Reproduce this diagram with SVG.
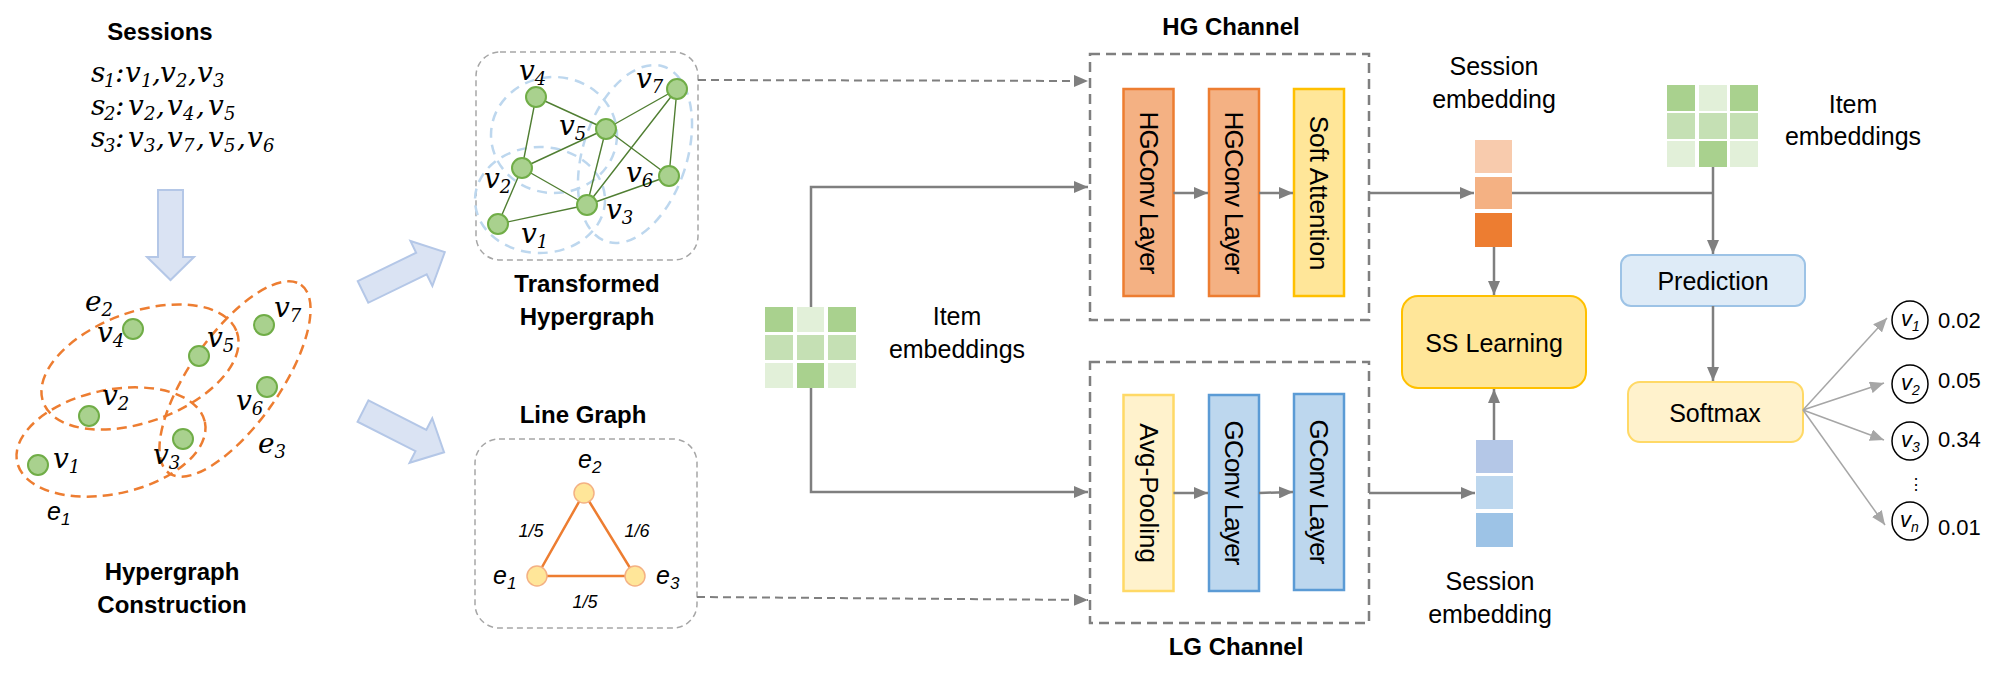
<svg xmlns="http://www.w3.org/2000/svg" width="2006" height="675" viewBox="0 0 2006 675">
<defs>
<style>
.t{font-family:"Liberation Sans",Arial,sans-serif;fill:#000}
.b{font-family:"Liberation Sans",Arial,sans-serif;font-weight:bold;font-size:24px;fill:#000;text-anchor:middle}
.lbl{font-family:"Liberation Sans",Arial,sans-serif;font-size:25px;fill:#000;text-anchor:middle}
.m{font-family:"DejaVu Serif","Liberation Serif",serif;font-style:italic;font-size:28px;fill:#000}
.sub{font-size:18px}
.si{font-family:"Liberation Sans",Arial,sans-serif;font-style:italic;fill:#000}
.hn{fill:#a9d18e;stroke:#70ad47;stroke-width:2}
.he{stroke:#507e32;stroke-width:1.4;fill:none}
.oe{fill:none;stroke:#ed7d31;stroke-width:2.5;stroke-dasharray:10 6}
.be{fill:none;stroke:#bdd7ee;stroke-width:2.5;stroke-dasharray:10 7}
.gbox{fill:none;stroke:#a6a6a6;stroke-width:1.5;stroke-dasharray:6 4}
.cbox{fill:none;stroke:#7f7f7f;stroke-width:2.5;stroke-dasharray:10 6}
.bigarrow{fill:#dae3f3;stroke:#b4c7e7;stroke-width:2}
.conn{fill:none;stroke:#7f7f7f;stroke-width:2.5}
.dconn{fill:none;stroke:#7f7f7f;stroke-width:2;stroke-dasharray:8 5}
.out{fill:none;stroke:#a6a6a6;stroke-width:1.5}
.lt{font-family:"Liberation Sans",Arial,sans-serif;font-size:26px;fill:#000;text-anchor:middle;dominant-baseline:central}
.g1{fill:#a9d18e}.g2{fill:#c5e0b4}.g3{fill:#e2f0d9}
</style>
<marker id="ah" viewBox="0 0 14 12" refX="14" refY="6" markerWidth="14" markerHeight="12" markerUnits="userSpaceOnUse" orient="auto">
<path d="M0,0 L14,6 L0,12 z" fill="#7f7f7f"/>
</marker>
<marker id="ahl" viewBox="0 0 14 12" refX="14" refY="6" markerWidth="14" markerHeight="12" markerUnits="userSpaceOnUse" orient="auto">
<path d="M0,0 L14,6 L0,12 z" fill="#a6a6a6"/>
</marker>
<path id="barrow" d="M0,-12 L65,-12 L65,-25 L91,0 L65,25 L65,12 L0,12 z"/>
</defs>

<!-- Sessions -->
<g id="sessions">
<text class="b" x="160" y="40">Sessions</text>
<text class="m"><tspan x="91" y="82">s</tspan><tspan class="sub" x="104" y="87">1</tspan><tspan x="115" y="82">:</tspan><tspan x="125" y="82">v</tspan><tspan class="sub" x="141" y="87">1</tspan><tspan x="152" y="82">,</tspan><tspan x="160" y="82">v</tspan><tspan class="sub" x="176" y="87">2</tspan><tspan x="188" y="82">,</tspan><tspan x="197" y="82">v</tspan><tspan class="sub" x="213" y="87">3</tspan></text>
<text class="m"><tspan x="91" y="115">s</tspan><tspan class="sub" x="104" y="120">2</tspan><tspan x="115" y="115">:</tspan><tspan x="128" y="115">v</tspan><tspan class="sub" x="144" y="120">2</tspan><tspan x="156" y="115">,</tspan><tspan x="167" y="115">v</tspan><tspan class="sub" x="183" y="120">4</tspan><tspan x="196" y="115">,</tspan><tspan x="208" y="115">v</tspan><tspan class="sub" x="224" y="120">5</tspan></text>
<text class="m"><tspan x="91" y="147">s</tspan><tspan class="sub" x="104" y="152">3</tspan><tspan x="115" y="147">:</tspan><tspan x="128" y="147">v</tspan><tspan class="sub" x="144" y="152">3</tspan><tspan x="156" y="147">,</tspan><tspan x="167" y="147">v</tspan><tspan class="sub" x="183" y="152">7</tspan><tspan x="196" y="147">,</tspan><tspan x="208" y="147">v</tspan><tspan class="sub" x="224" y="152">5</tspan><tspan x="237" y="147">,</tspan><tspan x="247" y="147">v</tspan><tspan class="sub" x="263" y="152">6</tspan></text>
</g>

<!-- big blue arrows -->
<g id="arrow-down"><path class="bigarrow" d="M158,190 L183,190 L183,257 L194,257 L170.5,280 L147,257 L158,257 z"/></g>
<g id="arrow-up-right"><use href="#barrow" class="bigarrow" transform="translate(363,292) rotate(-26)"/></g>
<g id="arrow-down-right"><use href="#barrow" class="bigarrow" transform="translate(363,411) rotate(27)"/></g>

<!-- Hypergraph construction -->
<g id="hypergraph">
<ellipse class="oe" cx="140" cy="367" rx="103" ry="55" transform="rotate(-20 140 367)"/>
<ellipse class="oe" cx="111" cy="442" rx="96" ry="52" transform="rotate(-12 111 442)"/>
<ellipse class="oe" cx="235" cy="379" rx="115" ry="45" transform="rotate(-55 235 379)"/>
<circle class="hn" cx="133" cy="329" r="10"/>
<circle class="hn" cx="199" cy="356" r="10"/>
<circle class="hn" cx="264" cy="325" r="10"/>
<circle class="hn" cx="267" cy="387" r="10"/>
<circle class="hn" cx="89" cy="416" r="10"/>
<circle class="hn" cx="183" cy="439" r="10"/>
<circle class="hn" cx="38" cy="465" r="10"/>
<text class="m" x="85" y="311">e<tspan class="sub" dy="5">2</tspan></text>
<text class="m" x="258" y="453">e<tspan class="sub" dy="5">3</tspan></text>
<text class="si" font-size="25" x="47" y="520">e<tspan font-size="17" dy="5">1</tspan></text>
<text class="m" x="97" y="342">v<tspan class="sub" dy="5">4</tspan></text>
<text class="m" x="207" y="347">v<tspan class="sub" dy="5">5</tspan></text>
<text class="m" x="274" y="317">v<tspan class="sub" dy="5">7</tspan></text>
<text class="m" x="236" y="410">v<tspan class="sub" dy="5">6</tspan></text>
<text class="m" x="102" y="405">v<tspan class="sub" dy="5">2</tspan></text>
<text class="m" x="153" y="464">v<tspan class="sub" dy="5">3</tspan></text>
<text class="m" x="53" y="468">v<tspan class="sub" dy="5">1</tspan></text>
<text class="b" x="172" y="580">Hypergraph</text>
<text class="b" x="172" y="613">Construction</text>
</g>

<!-- Transformed Hypergraph -->
<g id="transformed-hypergraph">
<rect class="gbox" x="476" y="52" width="222" height="208" rx="24"/>
<ellipse class="be" cx="554" cy="135" rx="63" ry="58"/>
<ellipse class="be" cx="540" cy="200" rx="65" ry="53"/>
<ellipse class="be" cx="635" cy="154" rx="52" ry="92" transform="rotate(18 635 154)"/>
<path class="he" d="M536,97 L606,129 M536,97 L522,168 M522,168 L606,129 M606,129 L677,89 M606,129 L587,205 M606,129 L669,176 M677,89 L587,205 M677,89 L669,176 M522,168 L587,205 M522,168 L498,224 M498,224 L587,205 L669,176"/>
<circle class="hn" cx="536" cy="97" r="10"/>
<circle class="hn" cx="677" cy="89" r="10"/>
<circle class="hn" cx="606" cy="129" r="10"/>
<circle class="hn" cx="522" cy="168" r="10"/>
<circle class="hn" cx="669" cy="176" r="10"/>
<circle class="hn" cx="587" cy="205" r="10"/>
<circle class="hn" cx="498" cy="224" r="10"/>
<text class="m" x="519" y="80">v<tspan class="sub" dy="5">4</tspan></text>
<text class="m" x="636" y="88">v<tspan class="sub" dy="5">7</tspan></text>
<text class="m" x="559" y="135">v<tspan class="sub" dy="5">5</tspan></text>
<text class="m" x="484" y="188">v<tspan class="sub" dy="5">2</tspan></text>
<text class="m" x="626" y="182">v<tspan class="sub" dy="5">6</tspan></text>
<text class="m" x="606" y="219">v<tspan class="sub" dy="5">3</tspan></text>
<text class="m" x="521" y="243">v<tspan class="sub" dy="5">1</tspan></text>
<text class="b" x="587" y="292">Transformed</text>
<text class="b" x="587" y="325">Hypergraph</text>
</g>

<!-- Line Graph -->
<g id="line-graph">
<text class="b" x="583" y="423">Line Graph</text>
<rect class="gbox" x="475" y="439" width="222" height="189" rx="24"/>
<path d="M584,493 L537,576 L635,576 z" fill="none" stroke="#ed7d31" stroke-width="2.5"/>
<circle cx="584" cy="493" r="10" fill="#ffe699" stroke="#f4b183" stroke-width="1.5"/>
<circle cx="537" cy="576" r="10" fill="#ffe699" stroke="#f4b183" stroke-width="1.5"/>
<circle cx="635" cy="576" r="10" fill="#ffe699" stroke="#f4b183" stroke-width="1.5"/>
<text class="si" font-size="25" x="578" y="468">e<tspan font-size="17" dy="5">2</tspan></text>
<text class="si" font-size="25" x="493" y="584">e<tspan font-size="17" dy="5">1</tspan></text>
<text class="si" font-size="25" x="656" y="584">e<tspan font-size="17" dy="5">3</tspan></text>
<text class="si" font-size="18" x="531" y="537" text-anchor="middle">1/5</text>
<text class="si" font-size="18" x="637" y="537" text-anchor="middle">1/6</text>
<text class="si" font-size="18" x="585" y="608" text-anchor="middle">1/5</text>
</g>

<!-- Item embeddings (left) -->
<g id="item-emb-left">
<rect class="g1" x="765" y="307" width="28" height="25"/>
<rect class="g3" x="797" y="307" width="27" height="25"/>
<rect class="g1" x="828" y="307" width="28" height="25"/>
<rect class="g2" x="765" y="335" width="28" height="25"/>
<rect class="g2" x="797" y="335" width="27" height="25"/>
<rect class="g2" x="828" y="335" width="28" height="25"/>
<rect class="g3" x="765" y="363" width="28" height="25"/>
<rect class="g1" x="797" y="363" width="27" height="25"/>
<rect class="g3" x="828" y="363" width="28" height="25"/>
<text class="lbl" x="957" y="325">Item</text>
<text class="lbl" x="957" y="358">embeddings</text>
</g>

<!-- HG Channel -->
<g id="hg-channel">
<text class="b" x="1231" y="35">HG Channel</text>
<rect class="cbox" x="1090" y="54" width="279" height="266"/>
</g>
<g id="hgconv1">
<rect x="1123.5" y="89" width="50" height="207" fill="#f4b183" stroke="#ed7d31" stroke-width="2.5"/>
<text class="lt" transform="translate(1148.5 193) rotate(90)" textLength="163">HGConv Layer</text>
</g>
<g id="hgconv2">
<rect x="1209" y="89" width="50" height="207" fill="#f4b183" stroke="#ed7d31" stroke-width="2.5"/>
<text class="lt" transform="translate(1234 193) rotate(90)" textLength="163">HGConv Layer</text>
</g>
<g id="soft-attention">
<rect x="1294" y="89" width="50" height="207" fill="#ffe699" stroke="#ffc000" stroke-width="2.5"/>
<text class="lt" transform="translate(1319 193) rotate(90)">Soft Attention</text>
</g>

<!-- LG Channel -->
<g id="lg-channel">
<rect class="cbox" x="1090" y="362" width="279" height="261"/>
<text class="b" x="1236" y="655">LG Channel</text>
</g>
<g id="avg-pooling">
<rect x="1123.5" y="395" width="50" height="196" fill="#fff2cc" stroke="#ffd966" stroke-width="2.5"/>
<text class="lt" transform="translate(1148.5 493) rotate(90)">Avg-Pooling</text>
</g>
<g id="gconv1">
<rect x="1209" y="395" width="50" height="196" fill="#bdd7ee" stroke="#5b9bd5" stroke-width="2.5"/>
<text class="lt" transform="translate(1234 493) rotate(90)" textLength="145">GConv Layer</text>
</g>
<g id="gconv2">
<rect x="1294" y="394" width="50" height="196" fill="#bdd7ee" stroke="#5b9bd5" stroke-width="2.5"/>
<text class="lt" transform="translate(1319 492) rotate(90)" textLength="145">GConv Layer</text>
</g>

<!-- Session embeddings -->
<g id="session-emb-top">
<text class="lbl" x="1494" y="75">Session</text>
<text class="lbl" x="1494" y="108">embedding</text>
<rect x="1475" y="140" width="37" height="33" fill="#f8cbad"/>
<rect x="1475" y="177" width="37" height="32" fill="#f4b183"/>
<rect x="1475" y="213" width="37" height="34" fill="#ed7d31"/>
</g>
<g id="session-emb-bottom">
<rect x="1476" y="440" width="37" height="33" fill="#b4c7e7"/>
<rect x="1476" y="476" width="37" height="33" fill="#bdd7ee"/>
<rect x="1476" y="513" width="37" height="34" fill="#9dc3e6"/>
<text class="lbl" x="1490" y="590">Session</text>
<text class="lbl" x="1490" y="623">embedding</text>
</g>
<g id="ss-learning">
<rect x="1402" y="296" width="184" height="92" rx="16" fill="#ffe699" stroke="#ffc000" stroke-width="2"/>
<text class="lbl" x="1494" y="352">SS Learning</text>
</g>

<!-- Item embeddings (right) -->
<g id="item-emb-right">
<rect class="g1" x="1667" y="85" width="28" height="26"/>
<rect class="g3" x="1699" y="85" width="28" height="26"/>
<rect class="g1" x="1730" y="85" width="28" height="26"/>
<rect class="g2" x="1667" y="113" width="28" height="26"/>
<rect class="g2" x="1699" y="113" width="28" height="26"/>
<rect class="g2" x="1730" y="113" width="28" height="26"/>
<rect class="g3" x="1667" y="141" width="28" height="26"/>
<rect class="g1" x="1699" y="141" width="28" height="26"/>
<rect class="g3" x="1730" y="141" width="28" height="26"/>
<text class="lbl" x="1853" y="113">Item</text>
<text class="lbl" x="1853" y="145">embeddings</text>
</g>
<g id="prediction">
<rect x="1621" y="255" width="184" height="51" rx="10" fill="#deebf7" stroke="#9dc3e6" stroke-width="2"/>
<text class="lbl" x="1713" y="290">Prediction</text>
</g>
<g id="softmax">
<rect x="1628" y="382" width="175" height="60" rx="12" fill="#fff2cc" stroke="#ffd966" stroke-width="2"/>
<text class="lbl" x="1715" y="422">Softmax</text>
</g>

<!-- outputs -->
<g id="out-v1">
<ellipse cx="1910" cy="320" rx="18" ry="19" fill="#fff" stroke="#000" stroke-width="1.5"/>
<text class="si" font-size="22" x="1901" y="326">v<tspan font-size="14" dy="5">1</tspan></text>
<text class="t" font-size="22" x="1938" y="328">0.02</text>
</g>
<g id="out-v2">
<ellipse cx="1910" cy="384" rx="18" ry="19" fill="#fff" stroke="#000" stroke-width="1.5"/>
<text class="si" font-size="22" x="1901" y="390">v<tspan font-size="14" dy="5">2</tspan></text>
<text class="t" font-size="22" x="1938" y="388">0.05</text>
</g>
<g id="out-v3">
<ellipse cx="1910" cy="441" rx="18" ry="19" fill="#fff" stroke="#000" stroke-width="1.5"/>
<text class="si" font-size="22" x="1901" y="447">v<tspan font-size="14" dy="5">3</tspan></text>
<text class="t" font-size="22" x="1938" y="447">0.34</text>
</g>
<g id="out-dots"><text class="t" font-size="16" x="1916" y="490" text-anchor="middle" font-family="DejaVu Sans,sans-serif">⋮</text></g>
<g id="out-vn">
<ellipse cx="1910" cy="521" rx="18" ry="19" fill="#fff" stroke="#000" stroke-width="1.5"/>
<text class="si" font-size="22" x="1900" y="527">v<tspan font-size="14" dy="5">n</tspan></text>
<text class="t" font-size="22" x="1938" y="535">0.01</text>
</g>

<!-- connectors -->
<g id="connectors">
<path class="dconn" d="M698,80 L1088,81" marker-end="url(#ah)"/>
<path class="dconn" d="M697,597 L1088,600" marker-end="url(#ah)"/>
<path class="conn" d="M811,307 L811,187 L1088,187" marker-end="url(#ah)"/>
<path class="conn" d="M811,388 L811,492 L1088,492" marker-end="url(#ah)"/>
<path class="conn" d="M1173.5,193 L1208,193" marker-end="url(#ah)"/>
<path class="conn" d="M1259,193 L1293,193" marker-end="url(#ah)"/>
<path class="conn" d="M1173.5,493 L1208,493" marker-end="url(#ah)"/>
<path class="conn" d="M1259,493 L1293,492" marker-end="url(#ah)"/>
<path class="conn" d="M1369,193 L1474,193" marker-end="url(#ah)"/>
<path class="conn" d="M1512,193 L1713,193"/>
<path class="conn" d="M1713,167 L1713,254" marker-end="url(#ah)"/>
<path class="conn" d="M1369,493 L1475,493" marker-end="url(#ah)"/>
<path class="conn" d="M1494,247 L1494,295" marker-end="url(#ah)"/>
<path class="conn" d="M1494,440 L1494,389" marker-end="url(#ah)"/>
<path class="conn" d="M1713,306 L1713,381" marker-end="url(#ah)"/>
<path class="out" d="M1803,410 L1887,318" marker-end="url(#ahl)"/>
<path class="out" d="M1803,410 L1884,383" marker-end="url(#ahl)"/>
<path class="out" d="M1803,410 L1884,440" marker-end="url(#ahl)"/>
<path class="out" d="M1803,410 L1885,525" marker-end="url(#ahl)"/>
</g>
</svg>
